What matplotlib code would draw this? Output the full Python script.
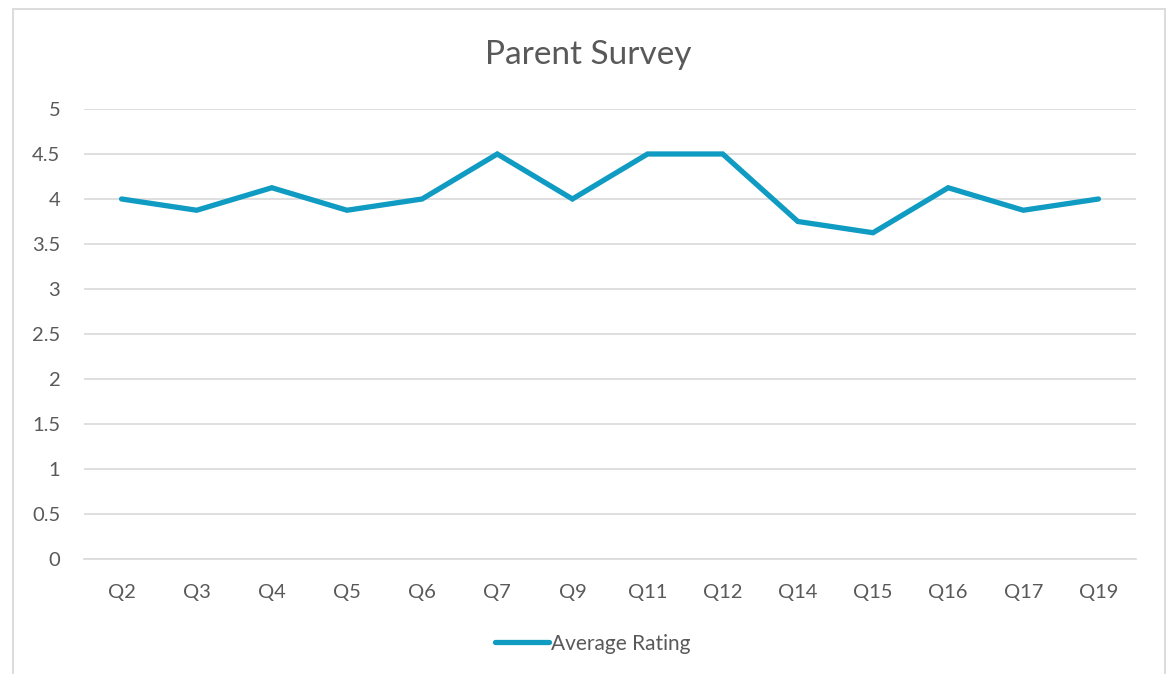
import matplotlib.pyplot as plt
from matplotlib.patches import Rectangle

# Survey data
questions = ["Q2", "Q3", "Q4", "Q5", "Q6", "Q7", "Q9", "Q11", "Q12",
             "Q14", "Q15", "Q16", "Q17", "Q19"]
avg_rating = [4.0, 3.875, 4.125, 3.875, 4.0, 4.5, 4.0, 4.5, 4.5,
              3.75, 3.625, 4.125, 3.875, 4.0]
y_ticks = [0, 0.5, 1, 1.5, 2, 2.5, 3, 3.5, 4, 4.5, 5]

text_color = "#595959"
grid_color = "#d9d9d9"
line_color = "#0f9bc2"

plt.rcParams["font.family"] = ["Lato", "DejaVu Sans"]

fig = plt.figure(figsize=(11.76, 6.74), dpi=100)
ax = fig.add_axes([0.0714, 0.1706, 0.8946, 0.6677])

# chart border (runs off the bottom of the image)
fig.patches.append(Rectangle((13 / 1176, -0.05), (1165 - 13) / 1176, 1 - 9 / 674 + 0.05,
                             transform=fig.transFigure, fill=False,
                             edgecolor="#d9d9d9", linewidth=1.3))

x = list(range(len(questions)))
ax.plot(x, avg_rating, color=line_color, linewidth=3.8, label="Average Rating",
        solid_joinstyle="miter", solid_capstyle="round")

ax.set_xlim(-0.5, len(questions) - 0.5)
ax.set_ylim(0, 5)
ax.set_yticks(y_ticks)
ax.set_yticklabels([f"{v:g}" for v in y_ticks])
ax.set_xticks(x)
ax.set_xticklabels(questions)
ax.tick_params(length=0, labelsize=14.5, colors=text_color)
ax.tick_params(axis="x", pad=18)
ax.tick_params(axis="y", pad=17)

ax.grid(axis="y", color=grid_color, linewidth=1.2)
ax.set_axisbelow(True)
for side in ["top", "right", "left"]:
    ax.spines[side].set_visible(False)
ax.spines["bottom"].set_color(grid_color)
ax.spines["bottom"].set_linewidth(1.2)

fig.text(0.5, 0.918, "Parent Survey", ha="center", va="center",
         fontsize=24, color=text_color)

fig.legend(loc="center", bbox_to_anchor=(0.504, 0.045), frameon=False,
           fontsize=15, labelcolor=text_color, handlelength=2.6,
           handletextpad=0.1)

fig.savefig("out.png", dpi=100)
